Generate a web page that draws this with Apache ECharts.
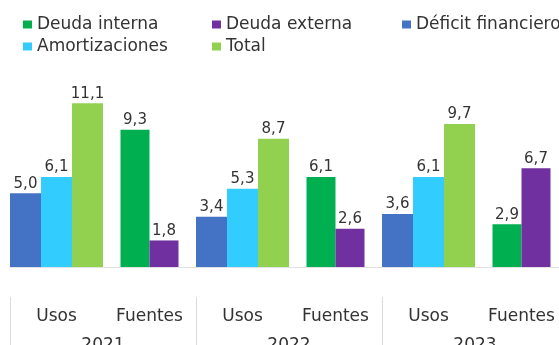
<!DOCTYPE html>
<html>
<head>
<meta charset="utf-8">
<title>Usos y Fuentes 2021-2023</title>
<script src="https://cdn.jsdelivr.net/npm/echarts@6/dist/echarts.min.js"></script>
<style>
  html, body { margin: 0; padding: 0; background: #ffffff; }
  #chart { width: 559px; height: 345px; }
</style>
</head>
<body>
<div id="chart"></div>
<script>
// Categories: each year has a "Usos" and a "Fuentes" column
const categories = ['Usos', 'Fuentes', 'Usos', 'Fuentes', 'Usos', 'Fuentes'];
const years = ['2021', '2022', '2023'];

// Usos
const deficitFinanciero = [5.0, null, 3.4, null, 3.6, null];
const amortizaciones    = [6.1, null, 5.3, null, 6.1, null];
const total             = [11.1, null, 8.7, null, 9.7, null];

// Fuentes
const deudaInterna = [null, 9.3, null, 6.1, null, 2.9];
const deudaExterna = [null, 1.8, null, 2.6, null, 6.7];

const FONT = 'DejaVu Sans';
const TEXT = '#333333';

const fmt = p => p.value == null ? '' : p.value.toFixed(1).replace('.', ',');

function bar(name, data, color, axis, width) {
  return {
    name: name,
    type: 'bar',
    xAxisIndex: axis,
    yAxisIndex: 0,
    data: data,
    barWidth: width,
    barGap: '0%',
    itemStyle: { color: color },
    label: {
      show: true,
      position: 'top',
      distance: 2,
      formatter: fmt,
      color: TEXT,
      fontFamily: FONT,
      fontSize: 15
    }
  };
}

const legendBase = {
  orient: 'vertical',
  top: 16,
  padding: 0,
  itemWidth: 9,
  itemHeight: 8,
  itemGap: 5,
  icon: 'rect',
  selectedMode: false,
  textStyle: { color: TEXT, fontFamily: FONT, fontSize: 17 }
};

const chart = echarts.init(document.getElementById('chart'), null, { renderer: 'canvas' });

chart.setOption({
  animation: false,
  backgroundColor: '#ffffff',
  legend: [
    Object.assign({}, legendBase, { left: 23, data: ['Deuda interna', 'Amortizaciones'] }),
    Object.assign({}, legendBase, { left: 212, data: ['Deuda externa', 'Total'] }),
    Object.assign({}, legendBase, { left: 402, data: ['Déficit financiero'] })
  ],
  grid: [
    { left: 10, right: -9, top: 90, bottom: 78, outerBoundsMode: 'none' },
    { left: 10, right: -9, top: 297, bottom: 0, outerBoundsMode: 'none' }
  ],
  xAxis: [
    {
      type: 'category', gridIndex: 0, data: categories,
      axisLine: { show: true, lineStyle: { color: '#e2e2e2', width: 1 } },
      axisTick: { show: false }, axisLabel: { show: false }, splitLine: { show: false }
    },
    {
      type: 'category', gridIndex: 0, data: categories, show: false
    },
    {
      type: 'category', gridIndex: 1, data: categories, position: 'top',
      axisLine: { show: false }, axisTick: { show: false }, splitLine: { show: false },
      axisLabel: {
        inside: true, margin: 11, interval: 0,
        color: TEXT, fontFamily: FONT, fontSize: 17
      }
    },
    {
      type: 'category', gridIndex: 1, data: years, position: 'top',
      axisLine: { show: false }, axisTick: { show: false },
      splitLine: {
        show: true, interval: 0,
        lineStyle: { color: '#dadada', width: 1 }
      },
      axisLabel: {
        inside: true, margin: 40, interval: 0,
        color: TEXT, fontFamily: FONT, fontSize: 17
      }
    }
  ],
  yAxis: [
    { type: 'value', gridIndex: 0, min: 0, max: 12, show: false },
    { type: 'value', gridIndex: 1, min: 0, max: 1, show: false }
  ],
  series: [
    bar('Déficit financiero', deficitFinanciero, '#4472C4', 0, 31),
    bar('Amortizaciones', amortizaciones, '#33CCFF', 0, 31),
    bar('Total', total, '#92D050', 0, 31),
    bar('Deuda interna', deudaInterna, '#00B050', 1, 29),
    bar('Deuda externa', deudaExterna, '#7030A0', 1, 29)
  ]
});
</script>
</body>
</html>
